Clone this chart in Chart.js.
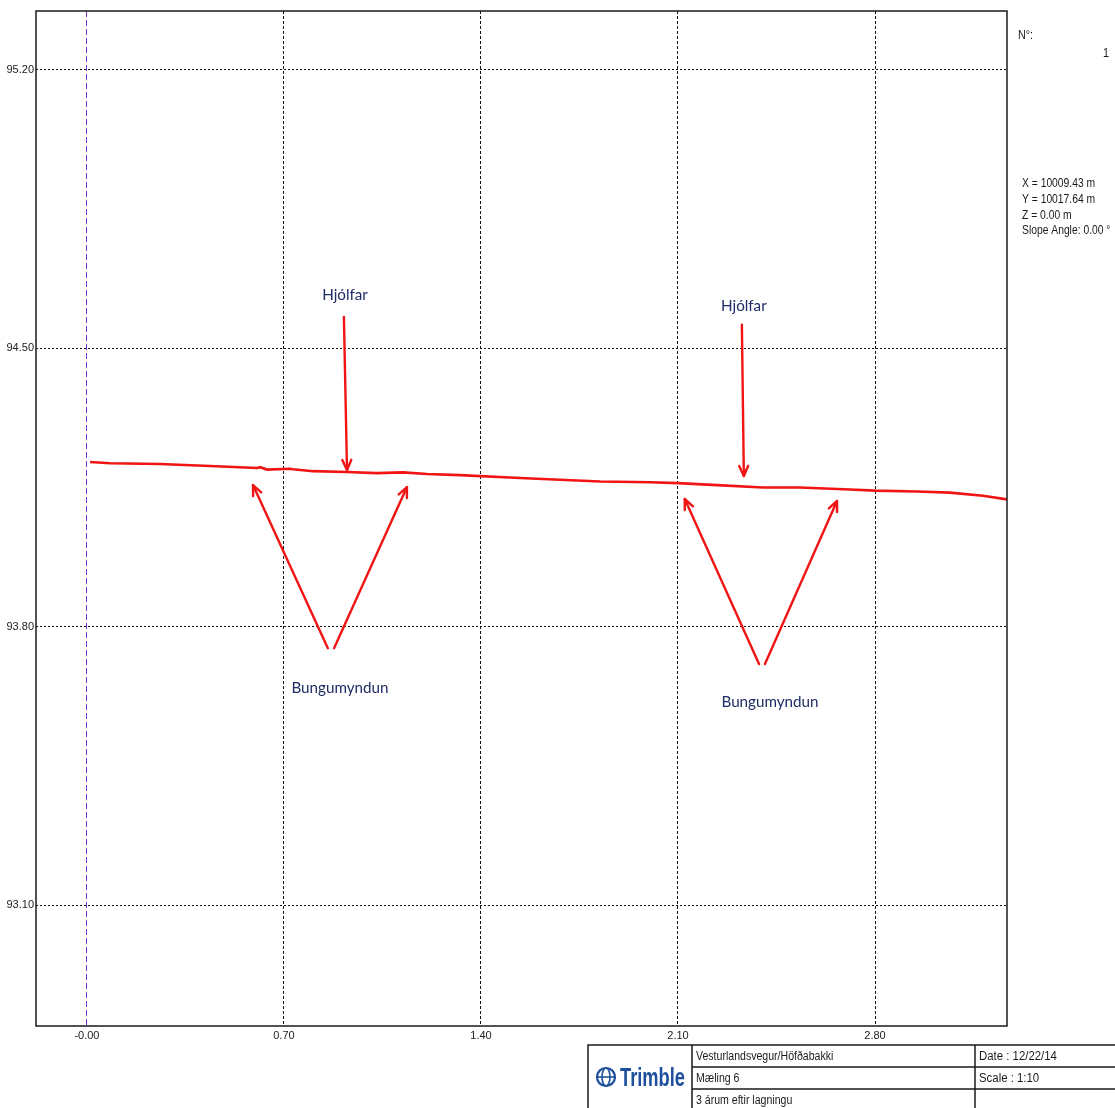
<!DOCTYPE html>
<html>
<head>
<meta charset="utf-8">
<title>Vesturlandsvegur/Höfðabakki – Mæling 6</title>
<script src="https://cdn.jsdelivr.net/npm/chart.js@4.4.1/dist/chart.umd.min.js"></script>
<style>
  html, body { margin: 0; padding: 0; background: #fff; }
  #wrap { position: relative; width: 1115px; height: 1108px; }
  canvas { display: block; }
</style>
</head>
<body>
<div id="wrap"><canvas id="profile" width="1115" height="1108"></canvas></div>
<script>
// Cross-section profile: offset along the section (m) and surface elevation (m)
const stationX = [0.011, 0.082, 0.259, 0.437, 0.604, 0.615, 0.640, 0.721, 0.732, 0.803,
                  0.924, 1.030, 1.123, 1.208, 1.325, 1.539, 1.823, 2.001, 2.100, 2.239,
                  2.402, 2.533, 2.711, 2.800, 2.949, 3.066, 3.184, 3.269];
const elevation = [94.214, 94.211, 94.209, 94.204, 94.199, 94.201, 94.195, 94.197, 94.196, 94.191,
                   94.189, 94.186, 94.188, 94.184, 94.181, 94.174, 94.165, 94.163, 94.161, 94.156,
                   94.150, 94.150, 94.145, 94.142, 94.140, 94.137, 94.129, 94.120];

// Axis ticks
const xTickValues = [0, 0.7, 1.4, 2.1, 2.8];
const xTickLabels = ['-0.00', '0.70', '1.40', '2.10', '2.80'];
const yTickValues = [93.1, 93.8, 94.5, 95.2];
const yTickLabels = ['93.10', '93.80', '94.50', '95.20'];
const xRange = [-0.181, 3.269];
const yRange = [92.796, 95.348];

// Hand-drawn notes on the profile (data units)
const noteLabels = ['Hjólfar', 'Hjólfar', 'Bungumyndun', 'Bungumyndun'];
const noteX = [0.917, 2.334, 0.899, 2.427];
const noteY = [94.634, 94.606, 93.646, 93.611];
const arrowFromX = [0.913, 2.327, 0.856, 0.878, 2.388, 2.409];
const arrowFromY = [94.579, 94.559, 93.746, 93.746, 93.706, 93.706];
const arrowToX = [0.924, 2.334, 0.590, 1.137, 2.124, 2.665];
const arrowToY = [94.194, 94.179, 94.156, 94.151, 94.121, 94.116];

// Side panel and title block
const pointInfo = ['X = 10009.43 m', 'Y = 10017.64 m', 'Z = 0.00 m', 'Slope Angle: 0.00 °'];
const titleRows = ['Vesturlandsvegur/Höfðabakki', 'Mæling 6', '3 árum eftir lagningu'];
const titleRight = ['Date : 12/22/14', 'Scale : 1:10', ''];

const SANS = '"Liberation Sans", Arial, sans-serif';

// Horizontally condensed text (the drawing sheet uses a narrow face)
function narrowText(ctx, text, x, y, align, squeeze) {
  ctx.save();
  ctx.translate(x, y);
  ctx.scale(squeeze, 1);
  ctx.textAlign = align;
  ctx.fillText(text, 0, 0);
  ctx.restore();
}

const framePlugin = {
  id: 'frame',
  afterDatasetsDraw(chart) {
    const { ctx, chartArea: a } = chart;
    ctx.save();
    ctx.strokeStyle = '#1a1a1a';
    ctx.lineWidth = 1.5;
    ctx.strokeRect(a.left, a.top, a.right - a.left, a.bottom - a.top);
    ctx.restore();
  }
};

function drawArrow(ctx, x1, y1, x2, y2) {
  const ang = Math.atan2(y2 - y1, x2 - x1);
  const len = 11, spread = 0.42;
  ctx.beginPath();
  ctx.moveTo(x1, y1);
  ctx.lineTo(x2, y2);
  ctx.stroke();
  ctx.beginPath();
  ctx.moveTo(x2 - len * Math.cos(ang - spread), y2 - len * Math.sin(ang - spread));
  ctx.lineTo(x2, y2);
  ctx.lineTo(x2 - len * Math.cos(ang + spread), y2 - len * Math.sin(ang + spread));
  ctx.stroke();
}

const notesPlugin = {
  id: 'notes',
  afterDraw(chart) {
    const { ctx } = chart;
    const xs = chart.scales.x, ys = chart.scales.y;
    ctx.save();
    ctx.strokeStyle = '#f01414';
    ctx.lineWidth = 2.4;
    ctx.lineCap = 'round';
    ctx.lineJoin = 'round';
    for (let i = 0; i < arrowFromX.length; i++) {
      drawArrow(ctx,
        xs.getPixelForValue(arrowFromX[i]), ys.getPixelForValue(arrowFromY[i]),
        xs.getPixelForValue(arrowToX[i]), ys.getPixelForValue(arrowToY[i]));
    }
    ctx.fillStyle = '#1f2d66';
    ctx.font = '16px Lato, "Open Sans", sans-serif';
    ctx.textAlign = 'center';
    ctx.textBaseline = 'middle';
    for (let i = 0; i < noteLabels.length; i++) {
      narrowText(ctx, noteLabels[i], xs.getPixelForValue(noteX[i]), ys.getPixelForValue(noteY[i]), 'center', 0.95);
    }
    ctx.restore();
  }
};

const panelPlugin = {
  id: 'panel',
  afterDraw(chart) {
    const { ctx } = chart;
    ctx.save();
    ctx.fillStyle = '#1a1a1a';
    ctx.textBaseline = 'middle';
    ctx.font = '12px ' + SANS;
    narrowText(ctx, 'N°:', 1018, 36, 'left', 0.9);
    narrowText(ctx, '1', 1109, 54, 'right', 0.9);
    pointInfo.forEach((t, i) => narrowText(ctx, t, 1022, 184 + i * 15.7, 'left', 0.86));

    // title block
    const left = 588, c1 = 692, c2 = 975, right = 1115;
    const top = 1045, rowH = 22;
    ctx.strokeStyle = '#1a1a1a';
    ctx.lineWidth = 1.5;
    ctx.beginPath();
    ctx.moveTo(left, 1108); ctx.lineTo(left, top); ctx.lineTo(right, top);
    ctx.moveTo(c1, top); ctx.lineTo(c1, 1108);
    ctx.moveTo(c2, top); ctx.lineTo(c2, 1108);
    for (let r = 1; r < 3; r++) {
      ctx.moveTo(c1, top + r * rowH); ctx.lineTo(right, top + r * rowH);
    }
    ctx.stroke();
    ctx.font = '12px ' + SANS;
    ctx.fillStyle = '#1a1a1a';
    titleRows.forEach((t, r) => narrowText(ctx, t, c1 + 4, top + r * rowH + rowH / 2 + 1, 'left', 0.88));
    titleRight.forEach((t, r) => narrowText(ctx, t, c2 + 4, top + r * rowH + rowH / 2 + 1, 'left', 0.95));

    // Trimble mark
    const cx = 606, cy = 1077;
    ctx.strokeStyle = '#1d4f9c';
    ctx.lineWidth = 2.2;
    ctx.beginPath(); ctx.arc(cx, cy, 9, 0, Math.PI * 2); ctx.stroke();
    ctx.lineWidth = 1.6;
    ctx.beginPath(); ctx.ellipse(cx, cy, 4, 9, 0, 0, Math.PI * 2); ctx.stroke();
    ctx.beginPath(); ctx.moveTo(cx - 9, cy); ctx.lineTo(cx + 9, cy); ctx.stroke();
    ctx.fillStyle = '#1d4f9c';
    ctx.font = 'bold 25px ' + SANS;
    narrowText(ctx, 'Trimble', 620, 1079, 'left', 0.73);
    ctx.restore();
  }
};

new Chart(document.getElementById('profile'), {
  type: 'scatter',
  data: {
    datasets: [{
      data: stationX.map((x, i) => ({ x, y: elevation[i] })),
      showLine: true,
      borderColor: '#f01414',
      borderWidth: 2.6,
      pointRadius: 0,
      tension: 0
    }]
  },
  options: {
    responsive: false,
    animation: false,
    devicePixelRatio: 1,
    layout: { padding: { top: 11, right: 108, left: 0, bottom: 0 } },
    plugins: { legend: { display: false }, tooltip: { enabled: false } },
    scales: {
      x: {
        type: 'linear',
        min: xRange[0], max: xRange[1],
        afterBuildTicks: s => { s.ticks = xTickValues.map(v => ({ value: v })); },
        afterFit: s => { s.height = 82; },
        ticks: {
          padding: 3,
          color: '#222',
          font: { family: SANS, size: 11 },
          maxRotation: 0,
          callback: v => xTickLabels[xTickValues.findIndex(t => Math.abs(t - v) < 1e-6)]
        },
        grid: {
          drawTicks: false,
          color: c => (c.tick && Math.abs(c.tick.value) < 1e-6) ? '#7b2fc9' : '#111',
          lineWidth: 1
        },
        border: {
          display: false,
          dash: c => (c.tick && Math.abs(c.tick.value) < 1e-6) ? [6, 3] : [3, 2]
        }
      },
      y: {
        type: 'linear',
        min: yRange[0], max: yRange[1],
        afterBuildTicks: s => { s.ticks = yTickValues.map(v => ({ value: v })); },
        afterFit: s => { s.width = 36; },
        ticks: {
          padding: 2,
          color: '#222',
          font: { family: SANS, size: 11 },
          callback: v => yTickLabels[yTickValues.findIndex(t => Math.abs(t - v) < 1e-6)]
        },
        grid: { drawTicks: false, color: '#111', lineWidth: 1 },
        border: { display: false, dash: [2, 2] }
      }
    }
  },
  plugins: [framePlugin, notesPlugin, panelPlugin]
});
</script>
</body>
</html>
